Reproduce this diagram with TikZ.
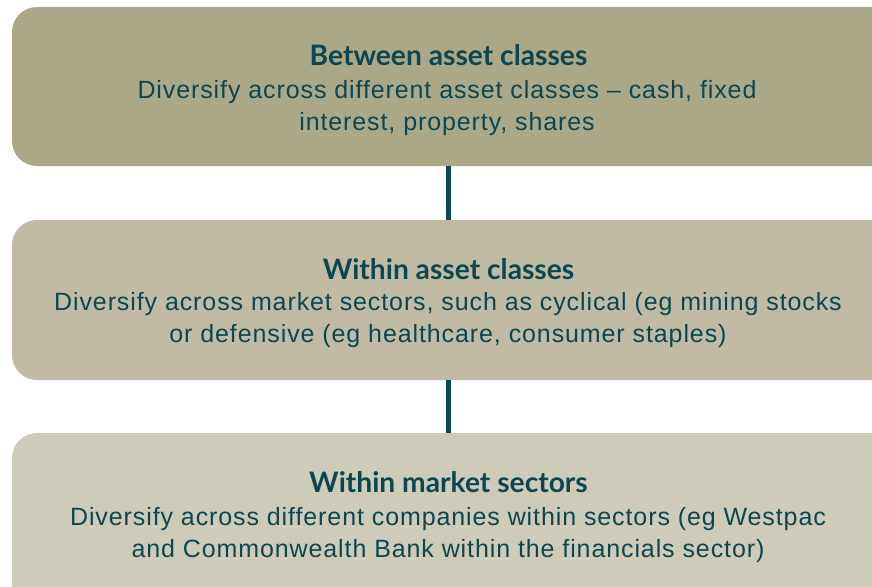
\documentclass[tikz,border=0pt]{standalone}
\usepackage{fontspec}
\setmainfont{Liberation Sans}[LetterSpace=3.6]
\newfontfamily\titlefont{Lato}
\definecolor{boxA}{HTML}{ABA887}
\definecolor{boxB}{HTML}{C0BBA2}
\definecolor{boxC}{HTML}{CECBB8}
\definecolor{ink}{HTML}{0B4652}
\tikzset{
  panel/.style={rounded corners=25pt, draw=none},
  ttl/.style={anchor=base, text=ink, font=\titlefont\bfseries\fontsize{28.2}{32}\selectfont, inner sep=0pt},
  txt/.style={anchor=base, text=ink, font=\fontsize{25}{30}\selectfont, inner sep=0pt},
  link/.style={draw=ink, line width=5.5pt}
}
\begin{document}
\begin{tikzpicture}[x=1pt,y=1pt]
\useasboundingbox (0,0) rectangle (872,-586);
\clip (0,0) rectangle (872,-586);
\fill[panel, boxA] (12,-7) rectangle (898,-166);
\fill[panel, boxB] (12,-220) rectangle (898,-380);
\fill[panel, boxC] (12,-433) rectangle (898,-612);
\coordinate (b1) at (448.5,-166);
\coordinate (t2) at (448.5,-220);
\coordinate (b2) at (448.5,-380);
\coordinate (t3) at (448.5,-433);
\draw[link] (b1) -- (t2);
\draw[link] (b2) -- (t3);
\node[ttl] (h1) at (448.5,-65) {Between asset classes};
\node[txt] (a1) at (447,-98) {Diversify across different asset classes – cash, fixed};
\node[txt] (a2) at (447,-130) {interest, property, shares};
\node[ttl] (h2) at (448.5,-279) {Within asset classes};
\node[txt] (c1) at (448,-310) {Diversify across market sectors, such as cyclical (eg mining stocks};
\node[txt] (c2) at (448,-342) {or defensive (eg healthcare, consumer staples)};
\node[ttl] (h3) at (448.5,-492) {Within market sectors};
\node[txt] (d1) at (448,-525) {Diversify across different companies within sectors (eg Westpac};
\node[txt] (d2) at (448,-557) {and Commonwealth Bank within the financials sector)};
\end{tikzpicture}
\end{document}
